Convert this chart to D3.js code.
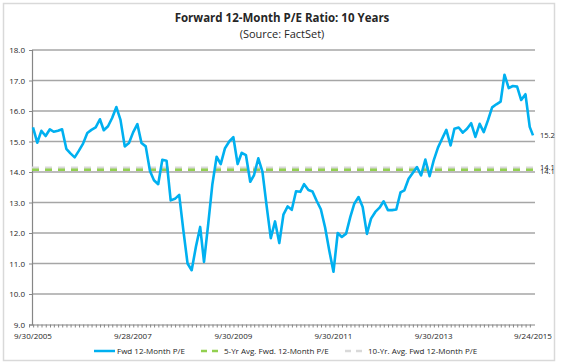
<!DOCTYPE html>
<html>
<head>
<meta charset="utf-8">
<script src="https://cdn.jsdelivr.net/npm/d3@7"></script>
<style>
  body { margin: 0; background: #fff; }
  svg text { font-family: "Open Sans", "Liberation Sans", sans-serif; fill: #262626; }
</style>
</head>
<body>
<div id="chart"></div>
<script>
// Forward 12-Month P/E Ratio - monthly readings, Sep 2005 -> Sep 2015

const startMonth = new Date(2005, 9, 1);   // first data point is the last day before this
const lastDate = new Date(2015, 8, 24);

const peValues = [
    15.46, 14.96, 15.35, 15.18, 15.40, 15.32, 15.35, 15.40, 14.76, 14.61,
    14.48, 14.70, 14.93, 15.28, 15.38, 15.46, 15.73, 15.37, 15.50, 15.77,
    16.13, 15.71, 14.84, 14.95, 15.30, 15.57, 14.95, 14.84, 14.03, 13.73,
    13.60, 14.40, 14.37, 13.07, 13.12, 13.25, 12.10, 11.00, 10.78, 11.55,
    12.20, 11.05, 12.31, 13.60, 14.50, 14.26, 14.78, 15.00, 15.14, 14.26,
    14.63, 14.55, 13.68, 13.90, 14.45, 14.01, 12.87, 11.83, 12.38, 11.67,
    12.60, 12.87, 12.76, 13.37, 13.35, 13.60, 13.41, 13.36, 13.05, 12.78,
    12.18, 11.41, 10.73, 12.00, 11.87, 11.98, 12.53, 12.96, 13.18, 12.85,
    11.97, 12.47, 12.69, 12.83, 13.04, 12.75, 12.75, 12.77, 13.33, 13.40,
    13.78, 13.97, 14.16, 13.89, 14.41, 13.86, 14.38, 14.80, 15.09, 15.38,
    14.87, 15.42, 15.46, 15.29, 15.42, 15.60, 15.15, 15.58, 15.31, 15.70,
    16.12, 16.22, 16.31, 17.19, 16.75, 16.82, 16.80, 16.36, 16.55, 15.48,
    15.20
];

const avg5yr = 14.07;
const avg10yr = 14.13;
const avgLabel = "14.1";
const lastLabel = "15.2";

const xTickLabels = ["9/30/2005", "9/28/2007", "9/30/2009", "9/30/2011", "9/30/2013", "9/24/2015"];
const yTicks = [9, 10, 11, 12, 13, 14, 15, 16, 17, 18];

const legendItems = [
    { label: "Fwd 12-Month P/E", color: "#00b0f0", dash: null, width: 2.5 },
    { label: "5-Yr Avg. Fwd. 12-Month P/E", color: "#92d050", dash: "6,5", width: 2.5 },
    { label: "10-Yr. Avg. Fwd 12-Month P/E", color: "#d9d9d9", dash: "6,5", width: 2.5 }
];

// dates for each value: month ends, last one is the actual last reading date
const parseDate = d3.timeParse("%m/%d/%Y");
const dates = peValues.map((v, i) =>
    i === peValues.length - 1 ? lastDate : d3.timeDay.offset(d3.timeMonth.offset(startMonth, i), -1));
const data = peValues.map((v, i) => ({ date: dates[i], value: v }));

const width = 564, height = 364;
const plot = { left: 32, right: 535, top: 50, bottom: 324.5 };

const svg = d3.select("#chart").append("svg")
    .attr("width", width)
    .attr("height", height);

// outer frame
svg.append("rect")
    .attr("x", 3.5).attr("y", 3.5)
    .attr("width", 551).attr("height", 357)
    .attr("fill", "#fff")
    .attr("stroke", "#d9d9d9")
    .attr("stroke-width", 1.5);

const x = d3.scaleTime()
    .domain([parseDate("9/30/2005"), lastDate])
    .range([33, 533]);

const y = d3.scaleLinear()
    .domain([9, 18])
    .range([plot.bottom, plot.top]);

// Titles
svg.append("text")
    .attr("x", 282).attr("y", 22)
    .attr("text-anchor", "middle")
    .attr("font-size", "11.5px")
    .attr("font-weight", "bold")
    .text("Forward 12-Month P/E Ratio: 10 Years");

svg.append("text")
    .attr("x", 282).attr("y", 38)
    .attr("text-anchor", "middle")
    .attr("font-size", "11px")
    .text("(Source: FactSet)");

// Gridlines
svg.append("g")
    .selectAll("line")
    .data(yTicks.slice(1))
    .enter().append("line")
    .attr("x1", plot.left).attr("x2", plot.right)
    .attr("y1", d => y(d)).attr("y2", d => y(d))
    .attr("stroke", "#a6a6a6")
    .attr("stroke-width", 1.3);

// Y axis
const yAxis = svg.append("g")
    .attr("transform", `translate(${plot.left},0)`)
    .call(d3.axisLeft(y).tickValues(yTicks).tickFormat(d3.format(".1f")).tickSize(3).tickPadding(4));
yAxis.select(".domain").attr("stroke", "#868686").attr("stroke-width", 1.2);
yAxis.selectAll(".tick line").attr("stroke", "#868686");
yAxis.selectAll("text").attr("font-size", "8px").attr("font-family", "Open Sans").attr("fill", "#262626");

// X axis - monthly minor ticks
const monthTicks = d3.timeMonth.range(d3.timeMonth.offset(startMonth, -1), lastDate).map(d => d);
const xAxis = svg.append("g")
    .attr("transform", `translate(0,${plot.bottom})`)
    .call(d3.axisBottom(x).tickValues(monthTicks).tickFormat("").tickSize(3).tickSizeOuter(0));
xAxis.select(".domain").attr("stroke", "#868686").attr("stroke-width", 1.2)
    .attr("d", `M${plot.left},0.5H${plot.right}`);
xAxis.selectAll(".tick line").attr("stroke", "#868686");

svg.append("g")
    .selectAll("text")
    .data(xTickLabels)
    .enter().append("text")
    .attr("x", d => x(parseDate(d)))
    .attr("y", 339)
    .attr("text-anchor", "middle")
    .attr("font-size", "8px")
    .text(d => d);

// Average lines
svg.append("line")
    .attr("x1", plot.left).attr("x2", plot.right)
    .attr("y1", y(avg10yr)).attr("y2", y(avg10yr))
    .attr("stroke", "#d9d9d9")
    .attr("stroke-width", 3)
    .attr("stroke-dasharray", "7,6");

svg.append("line")
    .attr("x1", plot.left).attr("x2", plot.right)
    .attr("y1", y(avg5yr)).attr("y2", y(avg5yr))
    .attr("stroke", "#92d050")
    .attr("stroke-width", 2.5)
    .attr("stroke-dasharray", "7,6");

// P/E line
const line = d3.line()
    .x(d => x(d.date))
    .y(d => y(d.value));

svg.append("path")
    .datum(data)
    .attr("fill", "none")
    .attr("stroke", "#00b0f0")
    .attr("stroke-width", 2.6)
    .attr("stroke-linejoin", "round")
    .attr("d", line);

// End labels
svg.append("text")
    .attr("x", 540).attr("y", y(data[data.length - 1].value) + 3)
    .attr("font-size", "7.5px")
    .text(lastLabel);

svg.append("text")
    .attr("x", 540).attr("y", y(avg10yr) + 1.5)
    .attr("font-size", "7.5px")
    .text(avgLabel);

svg.append("text")
    .attr("x", 540).attr("y", y(avg5yr) + 4)
    .attr("font-size", "7.5px")
    .text(avgLabel);

// Legend
const legendX = [94, 201, 345];
const legend = svg.append("g").attr("transform", "translate(0,351)");
legendItems.forEach((item, i) => {
    const g = legend.append("g").attr("transform", `translate(${legendX[i]},0)`);
    g.append("line")
        .attr("x1", 0).attr("x2", 21)
        .attr("y1", 0).attr("y2", 0)
        .attr("stroke", item.color)
        .attr("stroke-width", item.width)
        .attr("stroke-dasharray", item.dash);
    g.append("text")
        .attr("x", 23).attr("y", 3)
        .attr("font-size", "8px")
        .text(item.label);
});
</script>
</body>
</html>
